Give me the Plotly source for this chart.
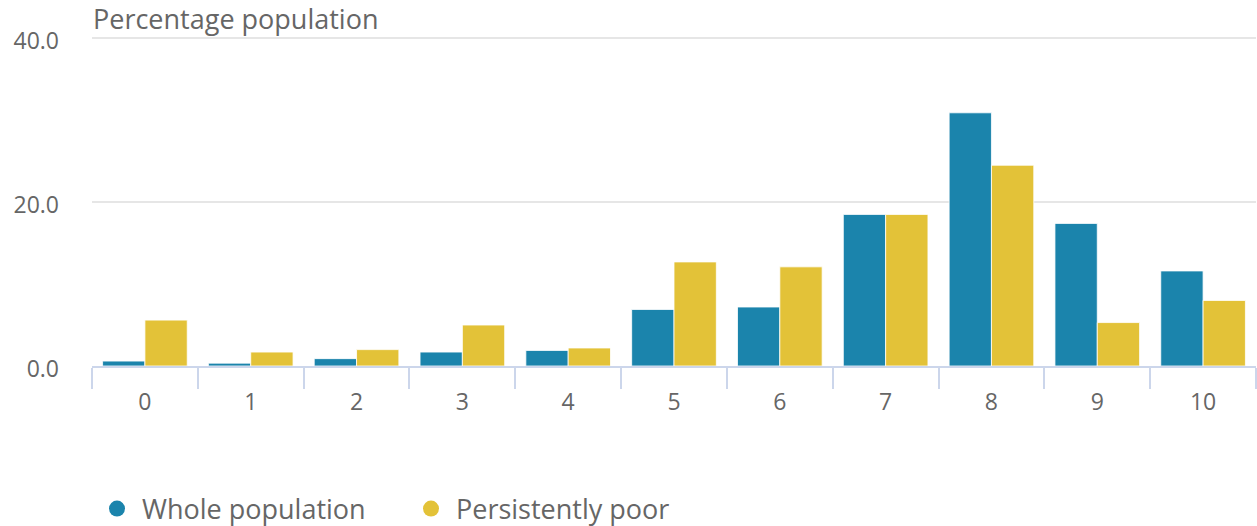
import plotly.graph_objects as go

categories = ["0", "1", "2", "3", "4", "5", "6", "7", "8", "9", "10"]
whole_population = [0.6, 0.35, 0.9, 1.7, 1.9, 6.9, 7.2, 18.5, 30.9, 17.4, 11.6]
persistently_poor = [5.6, 1.7, 2.0, 5.0, 2.2, 12.7, 12.1, 18.5, 24.5, 5.3, 8.0]
y_ticks = [0, 20, 40]

BLUE = "#1b84ac"
YELLOW = "#e3c238"
TEXT = "#666666"
FONT = "Open Sans"

fig = go.Figure()
for name, vals, col in [("Whole population", whole_population, BLUE),
                        ("Persistently poor", persistently_poor, YELLOW)]:
    fig.add_trace(go.Bar(
        x=categories, y=vals, name=name, showlegend=False,
        marker=dict(color=col, line=dict(color="rgba(255,255,255,0.8)", width=1)),
        hovertemplate="%{x}: %{y:.1f}<extra>" + name + "</extra>",
    ))
    # legend entry with circular symbol
    fig.add_trace(go.Scatter(
        x=[None], y=[None], mode="markers", name=name,
        marker=dict(color=col, size=16, symbol="circle"),
        showlegend=True,
    ))

fig.update_layout(
    width=1257, height=526,
    margin=dict(l=92, r=1, t=37, b=160),
    paper_bgcolor="white", plot_bgcolor="white",
    font=dict(family=FONT, color=TEXT, size=23),
    barmode="group", bargap=0.2, bargroupgap=0,
    title=dict(text="Percentage population", x=93 / 1257, xanchor="left",
               xref="container", y=1 - 20 / 526, yanchor="middle",
               pad=dict(l=0, r=0, t=0, b=0),
               font=dict(family=FONT, size=27, color=TEXT)),
    legend=dict(orientation="h", xref="container", x=92 / 1257, xanchor="left",
                yref="container", y=1 - 509 / 526, yanchor="middle",
                font=dict(family=FONT, size=27, color=TEXT),
                itemsizing="trace", itemwidth=40, traceorder="normal",
                entrywidth=259, entrywidthmode="pixels"),
    xaxis=dict(
        type="category", showgrid=False, showline=True, linecolor="#ccd6eb", linewidth=2,
        ticks="outside", tickson="boundaries", ticklen=21, tickcolor="#ccd6eb", tickwidth=2,
        ticklabelstandoff=14, automargin=False,
        tickfont=dict(family=FONT, size=23, color=TEXT), zeroline=False,
    ),
    yaxis=dict(
        range=[0, 40.15], tickvals=y_ticks, tickformat=".1f", automargin=False,
        showgrid=True, gridcolor="#e6e6e6", gridwidth=2, zeroline=False,
        ticks="", ticklabelstandoff=32, ticklabelshift=3, showline=False,
        tickfont=dict(family=FONT, size=23, color=TEXT),
    ),
)

fig.write_html("out.html", config={"displayModeBar": False},
               post_script="document.body.style.margin='0';")
